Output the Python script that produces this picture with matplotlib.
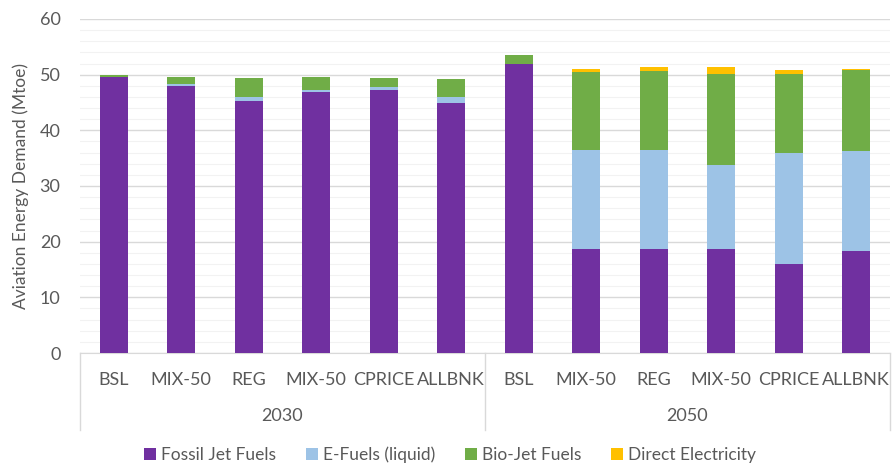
import numpy as np
import matplotlib
matplotlib.use("Agg")
import matplotlib.pyplot as plt
from matplotlib.transforms import blended_transform_factory
from matplotlib.patches import Patch

# scenarios and years
scenarios = ["BSL", "MIX-50", "REG", "MIX-50", "CPRICE", "ALLBNK"]
years = ["2030", "2050"]

# values in Mtoe, 2030 first then 2050
fossil = [49.5, 48.0, 45.2, 46.8, 47.2, 45.0,
          51.9, 18.6, 18.6, 18.6, 16.0, 18.4]
efuels = [0.0, 0.4, 0.8, 0.4, 0.6, 0.9,
          0.0, 17.8, 17.8, 15.2, 20.0, 17.8]
biojet = [0.4, 1.2, 3.4, 2.4, 1.6, 3.3,
          1.6, 14.1, 14.3, 16.3, 14.2, 14.6]
elec = [0.0, 0.0, 0.0, 0.0, 0.0, 0.0,
        0.0, 0.6, 0.6, 1.2, 0.6, 0.3]

series_names = ["Fossil Jet Fuels", "E-Fuels (liquid)", "Bio-Jet Fuels", "Direct Electricity"]
colors = ["#7030A0", "#9DC3E6", "#70AD47", "#FFC000"]

plt.rcParams['font.family'] = ['Lato', 'DejaVu Sans']
txt = "#595959"

fig = plt.figure(figsize=(8.92, 4.66), dpi=100)
ax = fig.add_axes([80 / 892, 1 - 353 / 466, 810 / 892, 334 / 466])

x = np.arange(len(fossil))
bottom = np.zeros(len(fossil))
for vals, c in zip([fossil, efuels, biojet, elec], colors):
    ax.bar(x, vals, width=0.41, bottom=bottom, color=c, zorder=3)
    bottom += np.array(vals)

ax.set_xlim(-0.5, len(fossil) - 0.5)
ax.set_ylim(0, 60)
ax.set_yticks(np.arange(0, 61, 10))
ax.set_yticks(np.arange(0, 61, 2), minor=True)
ax.grid(axis="y", which="major", color="#d9d9d9", linewidth=1, zorder=0)
ax.grid(axis="y", which="minor", color="#f2f2f2", linewidth=0.8, zorder=0)
ax.tick_params(axis="y", which="both", length=0, labelsize=13, colors=txt, pad=14)
ax.tick_params(axis="x", length=0, labelsize=13, colors=txt, pad=14)
ax.set_xticks(x)
ax.set_xticklabels(scenarios * len(years))
for s in ["top", "right", "left"]:
    ax.spines[s].set_visible(False)
ax.spines["bottom"].set_color("#d9d9d9")

ax.set_ylabel("Aviation Energy Demand (Mtoe)", fontsize=12.5, color=txt, labelpad=8)

# year group labels and separators
tr = blended_transform_factory(ax.transData, ax.transAxes)
n = len(scenarios)
for i, yr in enumerate(years):
    ax.text(i * n + (n - 1) / 2, -0.19, yr, transform=tr, ha="center", va="center",
            fontsize=13, color=txt)
for b in [-0.5 + i * n for i in range(len(years) + 1)]:
    ax.plot([b, b], [0, -0.23], transform=tr, color="#d9d9d9", lw=1, clip_on=False)

handles = [Patch(facecolor=c, label=l) for c, l in zip(colors, series_names)]
fig.legend(handles=handles, loc="center", bbox_to_anchor=(450 / 892, 1 - 455 / 466),
           ncol=4, frameon=False, fontsize=12.5, handlelength=0.7, handleheight=0.7,
           handletextpad=0.3, columnspacing=1.7, labelcolor=txt)

fig.savefig("out.png", dpi=100)
